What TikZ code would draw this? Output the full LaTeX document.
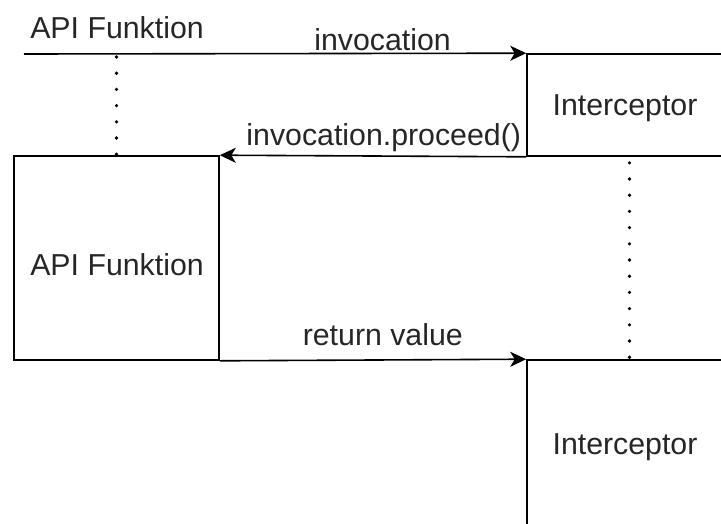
\documentclass[tikz,border=0pt]{standalone}
\usepackage{fontspec}
\setmainfont{Liberation Sans}
\usetikzlibrary{arrows.meta,calc}
\begin{document}
\begin{tikzpicture}[x=1pt,y=-1pt,
  every node/.style={font=\fontsize{30.3}{34}\selectfont, text=black!85},
  box/.style={draw, line width=1.6pt, inner sep=0pt},
  msg/.style={line width=1.6pt, -{Stealth[length=16pt,width=15pt,inset=4.5pt]}},
  life/.style={line width=3.6pt, line cap=round, dash pattern=on 0pt off 16.2pt},
  lbl/.style={draw=none, inner sep=2pt}]
\useasboundingbox (0,0) rectangle (721,523);
\clip (0,0) rectangle (721,523);
\node[lbl] (apiTop) at (117,28) {API Funktion};
\coordinate (start) at (24,54);
\node[box, minimum width=205pt, minimum height=102pt] (int1) at (629.5,105) {};
\node at (625,108) (int1t) {Interceptor};
\node[box, minimum width=205pt, minimum height=204pt] (api) at (116.5,258) {};
\node at (117,265) (apit) {API Funktion};
\node[box, minimum width=205pt, minimum height=170pt] (int2) at (629.5,445) {};
\node at (625,447) (int2t) {Interceptor};
\coordinate (l1) at (api.north |- start);
\draw[msg] (start) -- node[lbl, pos=0.714, above=0pt] {invocation} (int1.north west);
\draw[msg] (int1.south west) -- node[lbl, pos=0.465, above=1pt] {invocation.proceed()} (api.north east);
\draw[msg] (api.south east) -- node[lbl, pos=0.532, above=11pt] {return value} (int2.north west);
\draw[life] ($(l1)+(0,3)$) -- (api.north);
\draw[life] ($(int1.south)+(0,6)$) -- (int2.north);
\end{tikzpicture}
\end{document}
